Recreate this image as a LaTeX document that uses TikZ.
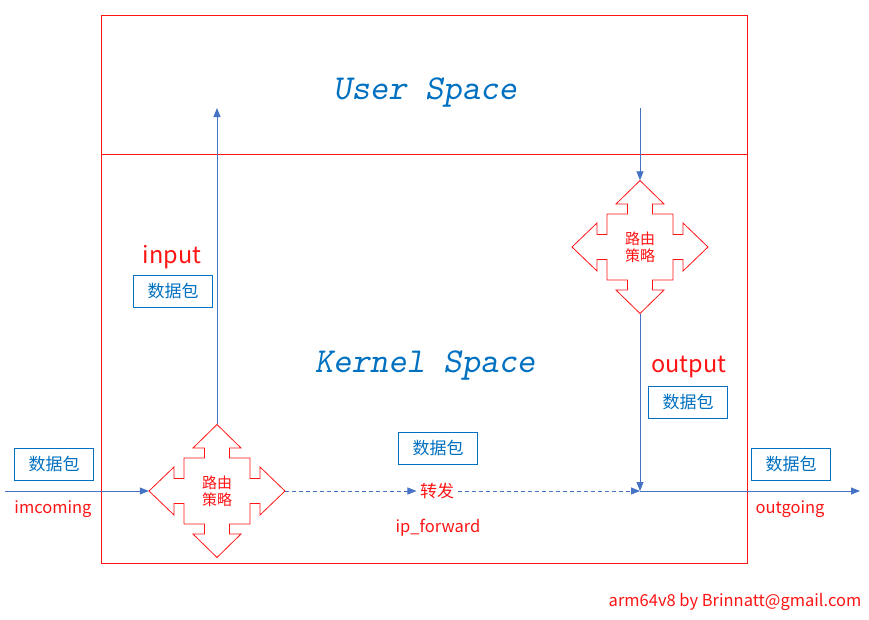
\documentclass[tikz,border=0pt]{standalone}
\usepackage{fontspec}
\setmainfont{Noto Sans CJK SC}
\newfontfamily\spacefont{lmmonoslant10-regular.otf}
\usetikzlibrary{positioning, arrows.meta}
\usepackage{xcolor}
\definecolor{flowblue}{RGB}{68, 114, 196}
\definecolor{pktblue}{RGB}{0, 112, 192}
\definecolor{netred}{RGB}{255, 20, 20}

\tikzset{
   quadarrow/.pic={
      \draw[netred, line width=0.8pt]
         (0,-66.5) -- (24,-43) -- (12.5,-43) -- (12.5,-33) -- (33,-33) -- (33,-12.5) -- (43,-12.5) -- (43,-24)
         -- (68,0) -- (43,24) -- (43,12.5) -- (33,12.5) -- (33,33) -- (12.5,33) -- (12.5,43) -- (24,43)
         -- (0,66.5) -- (-24,43) -- (-12.5,43) -- (-12.5,33) -- (-33,33) -- (-33,12.5) -- (-43,12.5) -- (-43,24)
         -- (-68,0) -- (-43,-24) -- (-43,-12.5) -- (-33,-12.5) -- (-33,-33) -- (-12.5,-33) -- (-12.5,-43) -- (-24,-43) -- cycle;
   }
}

\begin{document}
\begin{tikzpicture}[
      x=1pt, y=-1pt,
      frame/.style={draw=netred, line width=0.8pt},
      packet/.style={rectangle, draw=pktblue, text=pktblue, line width=0.9pt, minimum width=79pt, minimum height=32pt, inner sep=0pt, font=\fontsize{17}{20}\selectfont},
      router/.style={rectangle, minimum width=136pt, minimum height=133pt, inner sep=0pt, text=netred, align=center, font=\fontsize{15}{17}\selectfont},
      flow/.style={draw=flowblue, line width=0.8pt, -{Triangle[length=9pt, width=7pt]}},
      note/.style={text=netred, font=\fontsize{16.5}{19}\selectfont},
      bignote/.style={text=netred, font=\fontsize{23.5}{27}\selectfont},
      spacetext/.style={text=pktblue, font=\fontsize{35}{40}\spacefont}
   ]
      \useasboundingbox (0,0) rectangle (869,619);

      % Spaces
      \draw[frame] (101,15) rectangle (747,563);
      \draw[frame] (101,154) -- (747,154);
      \node (user)   [spacetext] at (425,92)  {User Space};
      \node (kernel) [spacetext] at (425,365) {Kernel Space};

      % Routing decisions
      \node (rin)  [router] at (217,491) {路由\\策略};
      \node (rout) [router] at (640,247) {路由\\策略};
      \pic at (rin)  {quadarrow};
      \pic at (rout) {quadarrow};
      \node (fwd)  [note, font=\fontsize{17}{20}\selectfont] at (437,491) {转发};

      % Free ends
      \coordinate (in)    at (5,491);
      \coordinate (up)    at (217,108);
      \coordinate (down)  at (640,108);
      \coordinate (merge) at (640,491);
      \coordinate (out)   at (860,491);

      % Packets
      \node (pin)   [packet] at (54,464)  {数据包};
      \node (pup)   [packet] at (173,291) {数据包};
      \node (pfwd)  [packet] at (438,448) {数据包};
      \node (pdown) [packet] at (688,402) {数据包};
      \node (pout)  [packet] at (791,464) {数据包};

      % Labels
      \node (lin)    [note]    at (53,509)  {imcoming};
      \node (linput) [bignote] at (172,257) {input};
      \node (lfwd)   [note]    at (438,528) {ip\_forward};
      \node (loutp)  [bignote] at (689,367) {output};
      \node (lout)   [note]    at (790,509) {outgoing};
      \node (sign)   [note] at (735,602) {arm64v8 by Brinnatt@gmail.com};

      % Flows
      \draw[flow] (in) -- (rin);
      \draw[flow] (rin) -- (up);
      \draw[flow, dash pattern=on 4pt off 3pt] (rin) -- (fwd);
      \draw[flow, dash pattern=on 4pt off 3pt] (fwd) -- (merge);
      \draw[flow] (down) -- (rout);
      \draw[flow] (rout) -- (merge);
      \draw[flow] (merge) -- (out);
   \end{tikzpicture}
\end{document}
